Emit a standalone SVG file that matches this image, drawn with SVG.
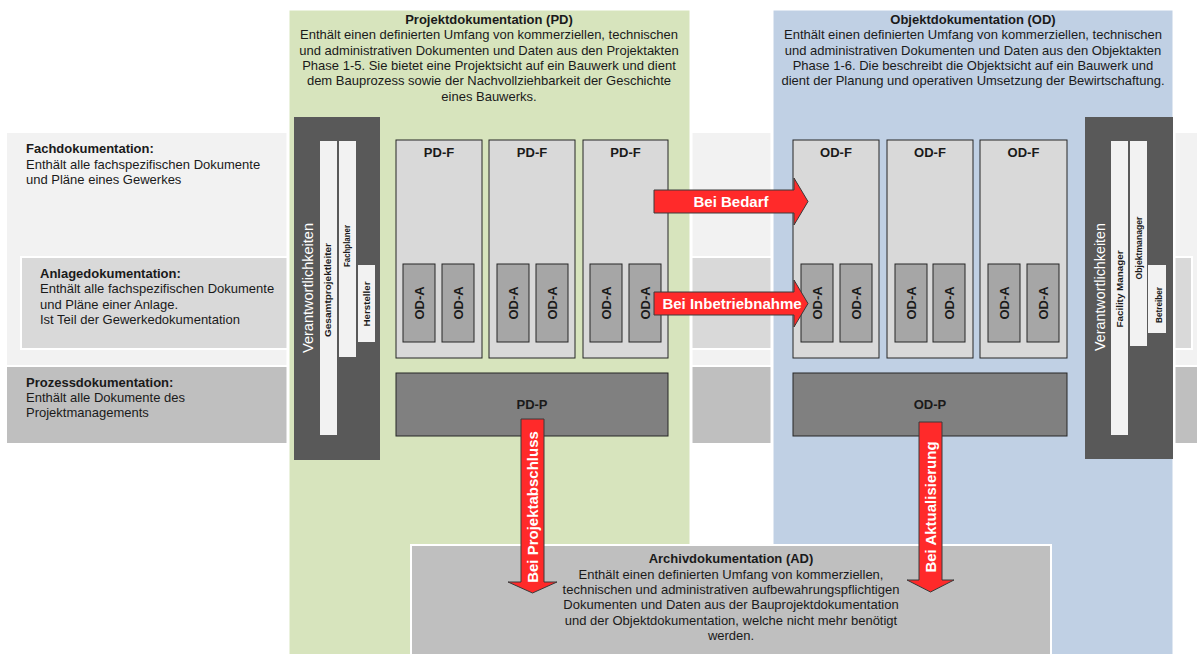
<svg xmlns="http://www.w3.org/2000/svg" width="1197" height="654" viewBox="0 0 1197 654">
<defs>
<style>
text{font-family:"Liberation Sans",Arial,sans-serif;fill:#1a1a1a}
.t13{font-size:13px}
.b13{font-size:13px;font-weight:bold}
.hdr{font-size:13px;text-anchor:middle}
.hdrb{font-size:13px;font-weight:bold;text-anchor:middle}
.lbl{font-size:13px;font-weight:bold;text-anchor:middle}
.role{font-size:9px;font-weight:bold;text-anchor:middle}
.resp{font-size:14px;fill:#ffffff;text-anchor:middle}
.arr{font-size:15px;font-weight:bold;fill:#ffffff;text-anchor:middle}
.box{fill:#d9d9d9;stroke:#262626;stroke-width:1}
.sub{fill:#a6a6a6;stroke:#262626;stroke-width:1}
.proc{fill:#808080;stroke:#262626;stroke-width:1}
.dark{fill:#595959}
.rb{fill:#f2f2f2}
.red{fill:#ff2a2a;stroke:#3a3a3a;stroke-width:1}
</style>
</defs>
<rect width="1197" height="654" fill="#ffffff"/>
<g id="bands">
<rect x="7" y="133" width="1190" height="232" fill="#f2f2f2"/>
<rect x="21" y="257" width="1171" height="92" fill="#d9d9d9" stroke="#ffffff" stroke-width="2"/>
<rect x="7" y="367" width="1190" height="76" fill="#bfbfbf"/>
</g>
<g id="band-labels">
<text x="26" y="153" class="b13">Fachdokumentation:</text>
<text x="26" y="168.5" class="t13">Enthält alle fachspezifischen Dokumente</text>
<text x="26" y="184" class="t13">und Pläne eines Gewerkes</text>
<text x="40" y="277.7" class="b13">Anlagedokumentation:</text>
<text x="40" y="293.2" class="t13">Enthält alle fachspezifischen Dokumente</text>
<text x="40" y="308.7" class="t13">und Pläne einer Anlage.</text>
<text x="40" y="324.2" class="t13">Ist Teil der Gewerkedokumentation</text>
<text x="26" y="386.7" class="b13">Prozessdokumentation:</text>
<text x="26" y="402" class="t13">Enthält alle Dokumente des</text>
<text x="26" y="417.3" class="t13">Projektmanagements</text>
</g>
<g id="PD">
<rect x="288" y="9" width="403" height="650" fill="#d7e4bd" stroke="#ffffff" stroke-width="3"/>
<text x="489" y="24" class="hdrb">Projektdokumentation (PD)</text>
<text x="489" y="39.3" class="hdr">Enthält einen definierten Umfang von kommerziellen, technischen</text>
<text x="489" y="54.6" class="hdr">und administrativen Dokumenten und Daten aus den Projektakten</text>
<text x="489" y="69.9" class="hdr">Phase 1-5. Sie bietet eine Projektsicht auf ein Bauwerk und dient</text>
<text x="489" y="85.2" class="hdr">dem Bauprozess sowie der Nachvollziehbarkeit der Geschichte</text>
<text x="489" y="100.5" class="hdr">eines Bauwerks.</text>
</g>
<g id="OD">
<rect x="772" y="9" width="402" height="650" fill="#c0d0e4" stroke="#ffffff" stroke-width="3"/>
<text x="973" y="24" class="hdrb">Objektdokumentation (OD)</text>
<text x="973" y="39.3" class="hdr">Enthält einen definierten Umfang von kommerziellen, technischen</text>
<text x="973" y="54.6" class="hdr">und administrativen Dokumenten und Daten aus den Objektakten</text>
<text x="973" y="69.9" class="hdr">Phase 1-6. Die beschreibt die Objektsicht auf ein Bauwerk und</text>
<text x="973" y="85.2" class="hdr">dient der Planung und operativen Umsetzung der Bewirtschaftung.</text>
</g>
<g id="resp-left">
<rect x="294" y="117" width="86" height="343" class="dark"/>
<text transform="translate(312.5,288) rotate(-90)" class="resp" textLength="130" lengthAdjust="spacingAndGlyphs">Verantwortlichkeiten</text>
<rect x="320" y="141" width="17" height="294" class="rb"/>
<rect x="339" y="141" width="17" height="216" class="rb"/>
<rect x="358" y="265" width="17" height="77" class="rb"/>
<text transform="translate(331,290) rotate(-90)" class="role" textLength="94" lengthAdjust="spacingAndGlyphs">Gesamtprojektleiter</text>
<text transform="translate(350,246) rotate(-90)" class="role" textLength="42" lengthAdjust="spacingAndGlyphs">Fachplaner</text>
<text transform="translate(369.5,304) rotate(-90)" class="role" textLength="45" lengthAdjust="spacingAndGlyphs">Hersteller</text>
</g>
<g id="resp-right">
<rect x="1085" y="117" width="88" height="342" class="dark"/>
<text transform="translate(1104.5,287) rotate(-90)" class="resp" textLength="128" lengthAdjust="spacingAndGlyphs">Verantwortlichkeiten</text>
<rect x="1111" y="141" width="17" height="294" class="rb"/>
<rect x="1130" y="141" width="17" height="205" class="rb"/>
<rect x="1148" y="265" width="18" height="68" class="rb"/>
<text transform="translate(1123,289) rotate(-90)" class="role" textLength="77" lengthAdjust="spacingAndGlyphs">Facility Manager</text>
<text transform="translate(1142,248) rotate(-90)" class="role" textLength="63" lengthAdjust="spacingAndGlyphs">Objektmanager</text>
<text transform="translate(1161.5,305) rotate(-90)" class="role" textLength="36" lengthAdjust="spacingAndGlyphs">Betreiber</text>
</g>
<g id="PD-F-1">
<rect x="396" y="140" width="86" height="218" class="box"/>
<text x="439" y="157" class="lbl">PD-F</text>
<rect x="403" y="264" width="32" height="78" class="sub"/>
<rect x="442" y="264" width="32" height="78" class="sub"/>
<text transform="translate(423.7,303) rotate(-90)" class="lbl">OD-A</text>
<text transform="translate(462.7,303) rotate(-90)" class="lbl">OD-A</text>
</g>
<g id="PD-F-2">
<rect x="489" y="140" width="86" height="218" class="box"/>
<text x="532" y="157" class="lbl">PD-F</text>
<rect x="497" y="264" width="32" height="78" class="sub"/>
<rect x="536" y="264" width="32" height="78" class="sub"/>
<text transform="translate(517.7,303) rotate(-90)" class="lbl">OD-A</text>
<text transform="translate(556.7,303) rotate(-90)" class="lbl">OD-A</text>
</g>
<g id="PD-F-3">
<rect x="583" y="140" width="85" height="218" class="box"/>
<text x="625.5" y="157" class="lbl">PD-F</text>
<rect x="590" y="264" width="32" height="78" class="sub"/>
<rect x="629" y="264" width="32" height="78" class="sub"/>
<text transform="translate(610.7,303) rotate(-90)" class="lbl">OD-A</text>
<text transform="translate(649.7,303) rotate(-90)" class="lbl">OD-A</text>
</g>
<g id="OD-F-1">
<rect x="793" y="140" width="86" height="218" class="box"/>
<text x="836" y="157" class="lbl">OD-F</text>
<rect x="801" y="264" width="32" height="78" class="sub"/>
<rect x="840" y="264" width="32" height="78" class="sub"/>
<text transform="translate(821.7,303) rotate(-90)" class="lbl">OD-A</text>
<text transform="translate(860.7,303) rotate(-90)" class="lbl">OD-A</text>
</g>
<g id="OD-F-2">
<rect x="887" y="140" width="86" height="218" class="box"/>
<text x="930" y="157" class="lbl">OD-F</text>
<rect x="895" y="264" width="32" height="78" class="sub"/>
<rect x="933" y="264" width="32" height="78" class="sub"/>
<text transform="translate(915.7,303) rotate(-90)" class="lbl">OD-A</text>
<text transform="translate(953.7,303) rotate(-90)" class="lbl">OD-A</text>
</g>
<g id="OD-F-3">
<rect x="980" y="140" width="87" height="218" class="box"/>
<text x="1023.5" y="157" class="lbl">OD-F</text>
<rect x="988" y="264" width="32" height="78" class="sub"/>
<rect x="1027" y="264" width="32" height="78" class="sub"/>
<text transform="translate(1008.7,303) rotate(-90)" class="lbl">OD-A</text>
<text transform="translate(1047.7,303) rotate(-90)" class="lbl">OD-A</text>
</g>
<g id="PD-P">
<rect x="396" y="373" width="272" height="63" class="proc"/>
<text x="532" y="409" class="lbl">PD-P</text>
</g>
<g id="OD-P">
<rect x="793" y="373" width="274" height="63" class="proc"/>
<text x="930" y="409" class="lbl">OD-P</text>
</g>
<g id="AD">
<rect x="411" y="545" width="640" height="112" fill="#bfbfbf" stroke="#ffffff" stroke-width="2"/>
<text x="731" y="563.3" class="hdrb">Archivdokumentation (AD)</text>
<text x="731" y="578.7" class="hdr">Enthält einen definierten Umfang von kommerziellen,</text>
<text x="731" y="594" class="hdr">technischen und administrativen aufbewahrungspflichtigen</text>
<text x="731" y="609.3" class="hdr">Dokumenten und Daten aus der Bauprojektdokumentation</text>
<text x="731" y="624.6" class="hdr">und der Objektdokumentation, welche nicht mehr benötigt</text>
<text x="731" y="639.9" class="hdr">werden.</text>
</g>
<g id="connectors">
<polygon class="red" points="654,190 794,190 794,178 808,201.5 794,225 794,213 654,213"/>
<text x="731" y="206.8" class="arr">Bei Bedarf</text>
<polygon class="red" points="654,292 794,292 794,280 808,303.5 794,327 794,315 654,315"/>
<text x="732" y="309.3" class="arr">Bei Inbetriebnahme</text>
<polygon class="red" points="521,419 544,419 544,582 557,582 532.5,593 508,582 521,582"/>
<text transform="translate(538,507) rotate(-90)" class="arr">Bei Projektabschluss</text>
<polygon class="red" points="919,422 942,422 942,580 954,580 930.5,592 907,580 919,580"/>
<text transform="translate(936,507) rotate(-90)" class="arr">Bei Aktualisierung</text>
</g>
</svg>
